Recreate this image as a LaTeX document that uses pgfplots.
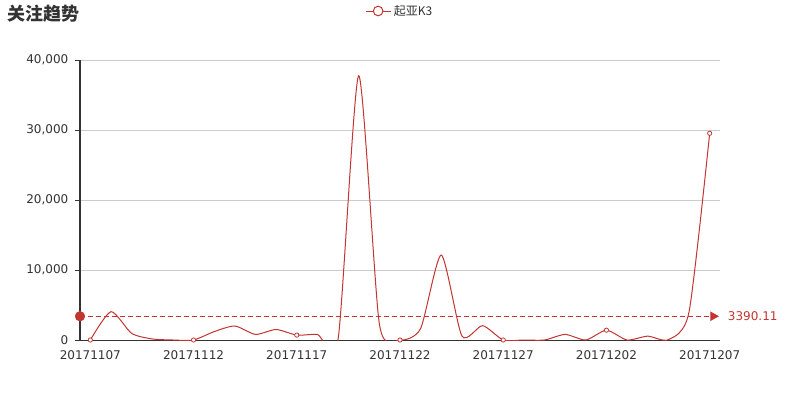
\documentclass[border=0pt]{standalone}
\usepackage{fontspec}
\setmainfont{DejaVu Sans}
\newfontfamily\cjk{Noto Sans CJK SC}
\usepackage{pgfplots}
\pgfplotsset{compat=1.18}
\usetikzlibrary{arrows.meta}
\definecolor{ser}{HTML}{C23531}
\definecolor{txt}{HTML}{333333}
\definecolor{grd}{HTML}{CCCCCC}
\pgfplotsset{
  box/.style={scale only axis, width=480pt, height=210pt,
    xmin=-0.5, xmax=30.5, ymin=0, ymax=40000},
}
\begin{document}
\begin{tikzpicture}
\begin{axis}[
  box,
  axis x line*=bottom, axis y line*=left,
  x axis line style={-, txt, line width=0.75pt},
  y axis line style={-, txt, line width=0.75pt},
  ytick={0,10000,20000,30000,40000},
  scaled y ticks=false,
  /pgf/number format/.cd, 1000 sep={,}, assume math mode=true, /pgfplots/.cd,
  ymajorgrids,
  grid style={grd, line width=0.75pt},
  tick align=outside,
  major tick length=3.75pt,
  tick style={txt, line width=0.75pt},
  xtick={0,5,10,15,20,25,30},
  xticklabels={20171107,20171112,20171117,20171122,20171127,20171202,20171207},
  xtick style={draw=none},
  extra x ticks={-0.5,4.5,9.5,14.5,19.5,24.5,29.5},
  extra x tick labels={},
  extra x tick style={grid=none, tick style={draw=txt, line width=0.75pt}},
  ticklabel style={font=\fontsize{9pt}{10pt}\selectfont, text=txt},
  xticklabel style={yshift=-0.5pt},
  yticklabel style={xshift=-1.5pt},
  legend style={draw=none, fill=none, at={(0.5,1.175)}, anchor=center,
    font=\cjk\fontsize{9pt}{10pt}\selectfont, text=txt,
    inner sep=0pt, cells={anchor=west}},
  legend image code/.code={
    \draw[ser, line width=0.75pt] (0pt,0pt) -- (18.75pt,0pt);
    \draw[ser, line width=0.75pt, fill=white] (9.4pt,0pt) circle (3.6pt);
  },
]
\addplot[ser, line width=0.75pt, smooth, tension=0.4,
  mark=*, mark size=1.6pt, mark options={fill=white, draw=ser, line width=0.6pt},
  mark indices={1,6,11,16,21,26,31}]
  coordinates {
  (0,0) (1,4050) (2,950) (3,150) (4,0) (5,0) (6,1200) (7,2000) (8,800)
  (9,1500) (10,700) (11,800) (12,100) (13,37760) (14,2300) (15,0)
  (16,1650) (17,12140) (18,570) (19,2050) (20,0) (21,0) (22,0) (23,800)
  (24,0) (25,1400) (26,0) (27,550) (28,50) (29,4000) (30,29530)
  };
\addlegendentry{起亚K3}
\end{axis}
% average mark line, on an overlaid axis so that it is not clipped
\begin{axis}[box, axis lines=none, clip=false]
\addplot[ser, line width=0.75pt, dash pattern=on 3.5pt off 2.5pt,
  -{Triangle[length=6.5pt,width=7pt,sep=0pt]}]
  coordinates {(-0.5,3390.11) (30.45,3390.11)}
  node[pos=1, anchor=west, xshift=3pt, text=ser, font=\fontsize{9pt}{10pt}\selectfont] {3390.11};
\addplot[ser, only marks, mark=*, mark size=3.6pt]
  coordinates {(-0.5,3390.11)};
\end{axis}
\node[anchor=base west, font=\cjk\bfseries\fontsize{13.5pt}{15pt}\selectfont, text=txt]
  at (-58pt,239.25pt) {关注趋势};
\pgfresetboundingbox
\path[use as bounding box] (-60pt,-45pt) rectangle (540pt,255pt);
\end{tikzpicture}
\end{document}
